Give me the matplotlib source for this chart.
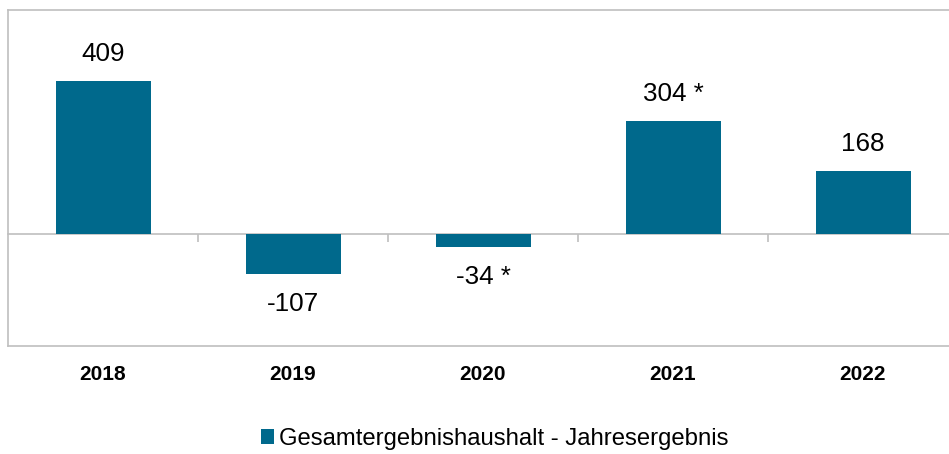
import matplotlib
matplotlib.use("Agg")
import matplotlib.pyplot as plt
from matplotlib.patches import Patch

categories = ["2018", "2019", "2020", "2021", "2022"]
values = [409, -107, -34, 304, 168]
labels = ["409", "-107", "-34 *", "304 *", "168"]
series_name = "Gesamtergebnishaushalt - Jahresergebnis"

plt.rcParams['font.family'] = ['Liberation Sans', 'DejaVu Sans']
bar_color = "#00698C"
grid_gray = "#BFBFBF"

W, H = 949, 454
fig = plt.figure(figsize=(W / 100, H / 100), dpi=100)
ax = fig.add_axes([8 / W, 1 - 346 / H, 950 / W, 336 / H])

x = list(range(len(categories)))
ax.bar(x, values, width=0.5, color=bar_color, zorder=3)
ax.set_xlim(-0.5, len(categories) - 0.5)
ax.set_ylim(-300, 600)

for xi, v, lab in zip(x, values, labels):
    if v >= 0:
        ax.annotate(lab, (xi, v), xytext=(0, 27), textcoords="offset pixels",
                    ha="center", va="center", fontsize=18.7, color="#000000")
    else:
        ax.annotate(lab, (xi, v), xytext=(0, -30), textcoords="offset pixels",
                    ha="center", va="center", fontsize=18.7, color="#000000")

for s in ["top", "left", "bottom", "right"]:
    ax.spines[s].set_color(grid_gray)
    ax.spines[s].set_linewidth(1.2)
ax.set_yticks([])
ax.set_xticks(x)
ax.set_xticklabels(categories, fontsize=15, fontweight="bold")
ax.tick_params(axis="x", length=0, pad=14)

zero = ax.secondary_xaxis(300 / 900)
zero.spines["bottom"].set_color(grid_gray)
zero.spines["bottom"].set_linewidth(1.2)
zero.set_xticks([i + 0.5 for i in x[:-1]])
zero.set_xticklabels([])
zero.tick_params(axis="x", direction="out", length=6, width=1.2, color=grid_gray)

fig.legend(handles=[Patch(facecolor=bar_color, label=series_name)],
           loc="center", bbox_to_anchor=(494.5 / W, 1 - 439 / H),
           frameon=False, fontsize=17.2, handlelength=0.55, handleheight=0.55,
           handletextpad=0.2)

fig.savefig("out.png", dpi=100)
